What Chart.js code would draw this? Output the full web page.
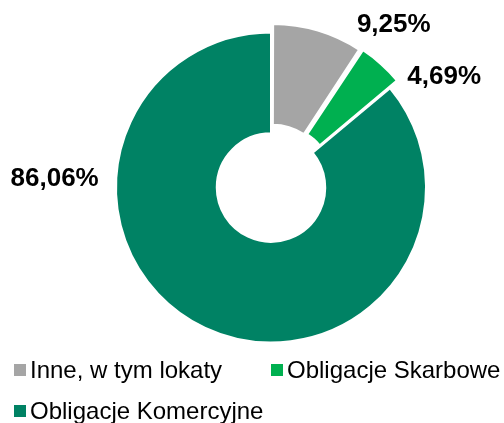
<!DOCTYPE html>
<html>
<head>
<meta charset="utf-8">
<script src="https://cdn.jsdelivr.net/npm/chart.js@4"></script>
<style>
  html, body { margin: 0; padding: 0; background: #fff; }
  #wrap { position: relative; width: 504px; height: 423px; overflow: hidden; }
  #chart { position: absolute; left: 0; top: 0; }
  #legend {
    position: absolute; left: 14px; top: 356px; width: 490px;
    display: flex; flex-wrap: wrap; column-gap: 30px; row-gap: 13px;
    font-family: "Liberation Sans", Arial, sans-serif; font-size: 24px; color: #000;
  }
  .item { display: flex; align-items: center; height: 28px; white-space: nowrap; }
  .item:first-child { width: 227px; }
  .box { width: 12px; height: 12px; margin-right: 4px; flex: none; }
</style>
</head>
<body>
<div id="wrap">
  <canvas id="chart" width="504" height="423"></canvas>
  <div id="legend"></div>
</div>
<script>
const categories = ['Inne, w tym lokaty', 'Obligacje Skarbowe', 'Obligacje Komercyjne']
const shares = [9.25, 4.69, 86.06]
const valueLabels = ['9,25%', '4,69%', '86,06%']
const colors = ['#a5a5a5', '#00b050', '#008264']
const sliceOffsets = [24, 24, 0]
// label anchor relative to slice centre, in units of the outer radius (x centre, y baseline)
const labelAnchors = [[0.792, -1.003], [1.117, -0.666], [-1.396, -0.01]]

const valueLabelPlugin = {
  id: 'valueLabels',
  afterDatasetsDraw(chart) {
    const ctx = chart.ctx
    const meta = chart.getDatasetMeta(0)
    ctx.save()
    ctx.font = 'bold 26px "Liberation Sans", Arial, sans-serif'
    ctx.fillStyle = '#000'
    ctx.textAlign = 'center'
    ctx.textBaseline = 'alphabetic'
    meta.data.forEach((arc, i) => {
      const r = arc.outerRadius
      ctx.fillText(valueLabels[i], arc.x + labelAnchors[i][0] * r, arc.y + labelAnchors[i][1] * r)
    })
    ctx.restore()
  },
}

const legend = document.getElementById('legend')
categories.forEach((name, i) => {
  const item = document.createElement('div')
  item.className = 'item'
  const box = document.createElement('span')
  box.className = 'box'
  box.style.background = colors[i]
  const text = document.createElement('span')
  text.textContent = name
  item.appendChild(box)
  item.appendChild(text)
  legend.appendChild(item)
})

new Chart(document.getElementById('chart'), {
  type: 'doughnut',
  data: {
    labels: categories,
    datasets: [
      {
        data: shares,
        backgroundColor: colors,
        borderColor: '#ffffff',
        borderWidth: 2,
        offset: sliceOffsets,
      },
    ],
  },
  options: {
    responsive: false,
    animation: false,
    radius: 155,
    cutout: '35%',
    layout: {
      padding: { left: 38, right: 0, top: 10, bottom: 58 },
    },
    plugins: {
      legend: { display: false },
      tooltip: { enabled: false },
    },
  },
  plugins: [valueLabelPlugin],
})
</script>
</body>
</html>
